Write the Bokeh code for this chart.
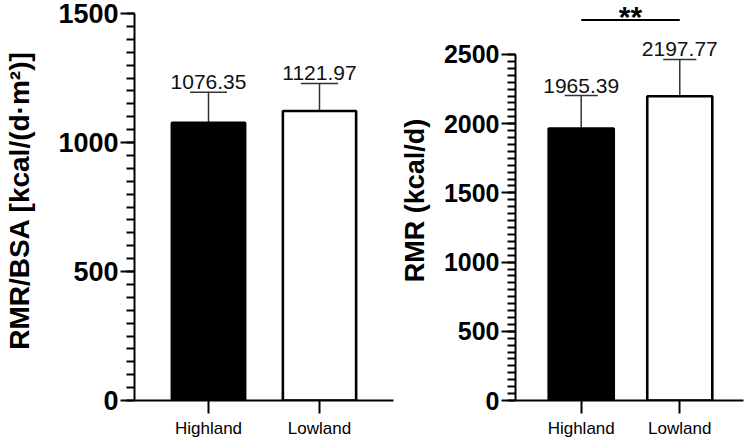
from bokeh.plotting import figure
from bokeh.models import Range1d, FixedTicker, SingleIntervalTicker, ColumnDataSource
from bokeh.layouts import row
from bokeh.embed import file_html
from bokeh.resources import INLINE
from bokeh.core.properties import value

# ---------------- data ----------------
categories = ["Highland", "Lowland"]
positions = [1, 2]

rmr_bsa_mean = [1076.35, 1121.97]
rmr_bsa_sd = [118, 107]

rmr_mean = [1965.39, 2197.77]
rmr_sd = [238, 266]

sig_pair = [1, 2]
sig_label = "**"
sig_y = 2750

left_ylabel = "RMR/BSA [kcal/(d·m²)]"
right_ylabel = "RMR (kcal/d)"

bar_fills = ["black", "white"]
FONT = "Liberation Sans"


def make_panel(mean, sd, width, x_end, y_end, y_bound, border_left, border_right,
               ylabel, tick_font, label_font, label_standoff, cap_half):
    p = figure(width=width, height=441, output_backend="svg", toolbar_location=None,
               x_range=Range1d(1 / 3, x_end), y_range=Range1d(0, y_end),
               min_border_left=border_left, min_border_right=border_right,
               min_border_top=0, min_border_bottom=41)
    p.outline_line_color = None
    p.grid.visible = False
    p.background_fill_color = "white"
    p.border_fill_color = "white"

    tops = [m + s for m, s in zip(mean, sd)]
    src = ColumnDataSource(dict(
        x=positions, mean=mean, top=tops,
        x0=[x - cap_half for x in positions], x1=[x + cap_half for x in positions],
        label=[f"{m:.2f}" for m in mean], fill=bar_fills))

    # error bars (upper only)
    p.segment(x0="x", y0="mean", x1="x", y1="top", source=src, line_color="#333333", line_width=1.5)
    p.segment(x0="x0", y0="top", x1="x1", y1="top", source=src, line_color="#333333", line_width=1.5)
    # bars
    p.vbar(x="x", top="mean", bottom=0, width=0.66, source=src,
           fill_color="fill", line_color="black", line_width=2.6)
    # value labels
    p.text(x="x", y="top", text="label", source=src, text_align="center",
           text_baseline="bottom", y_offset=-3, text_font=value(FONT),
           text_font_size="21px", text_color="#111111")

    # y axis
    ya = p.yaxis[0]
    ya.ticker = SingleIntervalTicker(interval=500, num_minor_ticks=10)
    ya.bounds = (0, y_bound)
    ya.axis_line_width = 2
    ya.major_tick_line_width = 2
    ya.minor_tick_line_width = 2
    ya.major_tick_out = 14
    ya.major_tick_in = 0
    ya.minor_tick_out = 8
    ya.minor_tick_in = 0
    ya.major_label_text_font = FONT
    ya.major_label_text_font_style = "bold"
    ya.major_label_text_font_size = tick_font
    ya.major_label_text_color = "black"
    ya.major_label_standoff = 2
    ya.axis_label = ylabel
    ya.axis_label_text_font = FONT
    ya.axis_label_text_font_style = "bold"
    ya.axis_label_text_font_size = label_font
    ya.axis_label_text_color = "black"
    ya.axis_label_standoff = label_standoff

    # x axis
    xa = p.xaxis[0]
    xa.ticker = FixedTicker(ticks=positions)
    xa.major_label_overrides = {pos: c for pos, c in zip(positions, categories)}
    xa.axis_line_width = 2
    xa.major_tick_line_width = 2
    xa.major_tick_out = 13
    xa.major_tick_in = 0
    xa.minor_tick_line_color = None
    xa.major_label_text_font = FONT
    xa.major_label_text_font_size = "17px"
    xa.major_label_text_color = "black"
    xa.major_label_standoff = 5
    return p


p1 = make_panel(rmr_bsa_mean, rmr_bsa_sd, width=396, x_end=8 / 3, y_end=1500 * 400 / 387,
                y_bound=1500, border_left=134, border_right=3, ylabel=left_ylabel,
                tick_font="27px", label_font="28px", label_standoff=20, cap_half=0.167)

p2 = make_panel(rmr_mean, rmr_sd, width=352, x_end=1 / 3 + 229 / 99, y_end=2890, y_bound=2500,
                border_left=118, border_right=5, ylabel=right_ylabel,
                tick_font="25px", label_font="27px", label_standoff=11, cap_half=0.168)

# significance bracket
p2.segment(x0=[sig_pair[0]], y0=[sig_y], x1=[sig_pair[1]], y1=[sig_y],
           line_color="black", line_width=2)
p2.text(x=[sum(sig_pair) / 2], y=[sig_y], text=[sig_label], text_align="center",
        text_baseline="alphabetic", y_offset=-3, text_font=value(FONT),
        text_font_style="bold", text_font_size="30px", text_color="black")

layout = row(p1, p2)

open("out.html", "w").write(file_html(layout, INLINE))
